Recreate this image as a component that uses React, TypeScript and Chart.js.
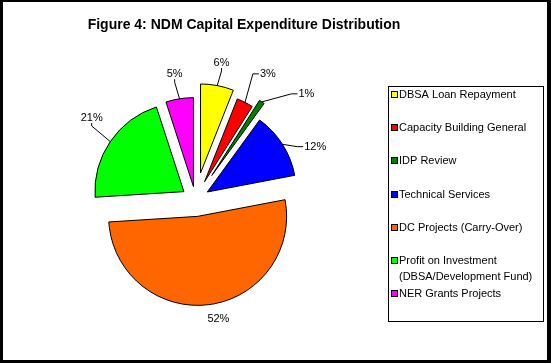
import React, { useEffect, useRef } from "react";
import { Chart, registerables } from "chart.js";

Chart.register(...registerables);

const TITLE = "Figure 4: NDM Capital Expenditure Distribution";
const categories: (string | string[])[] = [
  "DBSA Loan Repayment",
  "Capacity Building General",
  "IDP Review",
  "Technical Services",
  "DC Projects (Carry-Over)",
  ["Profit on Investment", "(DBSA/Development Fund)"],
  "NER Grants Projects",
];
const shares = [6, 3, 1, 12, 52, 21, 5];
const colors = ["#FFFF00", "#FF0000", "#008000", "#0000FF", "#FF6600", "#00FF00", "#FF00FF"];

// styling: explosion distance (px) and label placement per slice
const explode = [27, 20, 29, 14, 17, 14, 13];
const labelGap = [23, 36, 36, 28, 16, 29, 25];
const labelTurn = [0, 3.4, 15, 9.6, -4.2, 4.4, -0.5];

const FONT = "'Liberation Sans', Arial, sans-serif";

const explodePlugin = {
  id: "explodeSlices",
  afterDatasetUpdate(chart: any, args: any) {
    const meta = chart.getDatasetMeta(args.index);
    meta.data.forEach((el: any, i: number) => {
      const mid = (el.startAngle + el.endAngle) / 2;
      el.x += Math.cos(mid) * explode[i];
      el.y += Math.sin(mid) * explode[i];
    });
  },
};

const decorPlugin = {
  id: "decor",
  beforeDraw(chart: any) {
    const ctx = chart.ctx;
    ctx.save();
    ctx.fillStyle = "#FFFFFF";
    ctx.fillRect(0, 0, chart.width, chart.height);
    ctx.restore();
  },
  afterDatasetsDraw(chart: any) {
    const ctx = chart.ctx;
    const meta = chart.getDatasetMeta(0);
    const data = chart.data.datasets[0].data as number[];
    const total = data.reduce((a, b) => a + b, 0);
    ctx.save();
    ctx.font = `11px ${FONT}`;
    ctx.fillStyle = "#000";
    ctx.strokeStyle = "#000";
    ctx.lineWidth = 1;
    ctx.textAlign = "center";
    ctx.textBaseline = "middle";
    meta.data.forEach((el: any, i: number) => {
      const mid = (el.startAngle + el.endAngle) / 2;
      const R = el.outerRadius;
      const a = mid + (labelTurn[i] * Math.PI) / 180;
      const lx = el.x + Math.cos(a) * (R + labelGap[i]);
      const ly = el.y + Math.sin(a) * (R + labelGap[i]);
      const text = Math.round((data[i] / total) * 100) + "%";
      ctx.fillText(text, lx, ly);
      if (labelGap[i] > 20) {
        const hw = ctx.measureText(text).width / 2 + 1;
        const hh = 5;
        const sx = el.x + Math.cos(mid) * R;
        const sy = el.y + Math.sin(mid) * R;
        let ax: number, ay: number, bx: number, by: number;
        if (sx >= lx - hw - 8 && sx <= lx + hw + 8) {
          const d = sy > ly ? 1 : -1;
          ax = lx;
          ay = ly + d * hh;
          bx = ax;
          by = ay + d * 3;
        } else {
          const d = sx > lx ? 1 : -1;
          ax = lx + d * hw;
          ay = ly;
          bx = ax + d * 6;
          by = ay;
        }
        ctx.beginPath();
        ctx.moveTo(sx, sy);
        ctx.lineTo(bx, by);
        ctx.lineTo(ax, ay);
        ctx.stroke();
      }
    });
    ctx.restore();
  },
  afterDraw(chart: any) {
    const ctx = chart.ctx;
    const W = chart.width;
    const H = chart.height;
    ctx.save();
    // title
    ctx.font = `bold 14px ${FONT}`;
    ctx.fillStyle = "#000";
    ctx.textAlign = "center";
    ctx.textBaseline = "alphabetic";
    ctx.fillText(TITLE, 244, 29);

    // legend
    const lx = 388, ly = 86, lw = 155, lh = 235;
    ctx.strokeStyle = "#000";
    ctx.lineWidth = 1;
    ctx.strokeRect(lx + 0.5, ly + 0.5, lw, lh);
    ctx.font = `11px ${FONT}`;
    ctx.textAlign = "left";
    ctx.textBaseline = "middle";
    const labels = chart.data.labels as (string | string[])[];
    const bg = chart.data.datasets[0].backgroundColor as string[];
    labels.forEach((lab, i) => {
      const y = 95 + i * 33.2;
      ctx.fillStyle = bg[i];
      ctx.fillRect(lx + 3.5, Math.round(y) - 3.5, 6, 6);
      ctx.strokeStyle = "#000";
      ctx.strokeRect(lx + 3.5, Math.round(y) - 3.5, 6, 6);
      ctx.fillStyle = "#000";
      const lines = Array.isArray(lab) ? lab : [lab];
      lines.forEach((t, k) => ctx.fillText(t, lx + 11, y + k * 16));
    });

    // outer frame
    ctx.fillStyle = "#000";
    ctx.fillRect(0, 0, W, 2);
    ctx.fillRect(0, 0, 3, H);
    ctx.fillRect(W - 4, 0, 4, H);
    ctx.fillRect(0, H - 3, W, 3);
    ctx.restore();
  },
};

export default function App() {
  const ref = useRef<HTMLCanvasElement | null>(null);
  useEffect(() => {
    document.body.style.margin = "0";
    const canvas = ref.current;
    if (!canvas) return;
    const chart = new Chart(canvas, {
      type: "pie",
      data: {
        labels: categories as any,
        datasets: [
          {
            data: shares,
            backgroundColor: colors,
            borderColor: "#000000",
            borderWidth: 1,
          },
        ],
      },
      options: {
        responsive: false,
        animation: false,
        events: [],
        radius: 89,
        layout: { padding: { left: 20, right: 180, top: 46, bottom: 10 } },
        plugins: {
          legend: { display: false },
          tooltip: { enabled: false },
          title: { display: false },
        },
      } as any,
      plugins: [explodePlugin, decorPlugin],
    });
    return () => chart.destroy();
  }, []);
  return (
    <div style={{ width: 551, height: 363, overflow: "hidden" }}>
      <canvas ref={ref} width={551} height={363} style={{ display: "block" }} />
    </div>
  );
}
